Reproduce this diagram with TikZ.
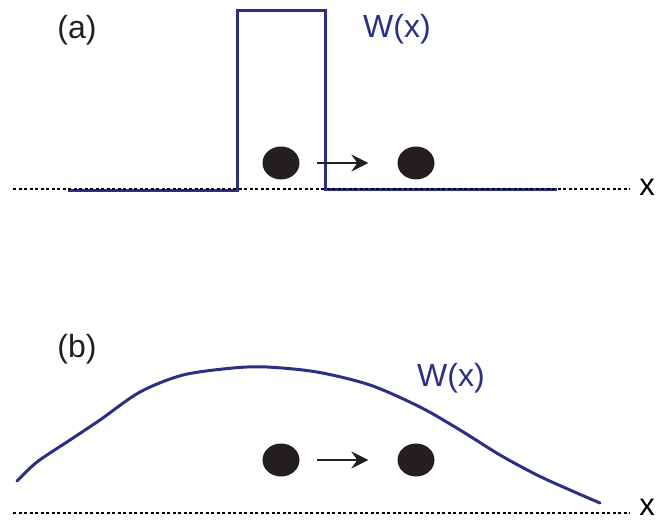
\documentclass[tikz,border=0pt]{standalone}
\usepackage{fontspec}
\setmainfont{Liberation Sans}
\usetikzlibrary{arrows.meta,shapes.geometric}
\definecolor{WellNavy}{HTML}{2B3082}
\definecolor{BallDark}{HTML}{231F20}
\tikzset{
  ball/.style={ellipse,fill=BallDark,minimum width=37pt,minimum height=33pt,inner sep=0pt},
  axisline/.style={dash pattern=on 3pt off 2.5pt,line width=1.4pt,black},
  wall/.style={line width=3pt,WellNavy},
  axislabel/.style={inner sep=0pt,font=\fontsize{31}{33}\selectfont},
}

\begin{document}
\begin{tikzpicture}[>={Stealth[length=17pt,width=17pt,inset=6pt]},x=1pt,y=-1pt,font=\fontsize{32}{34}\selectfont]
  \useasboundingbox (0,0) rectangle (667,522);
  % square barrier
  \draw[wall] (68,190)--(237,190)--(237,10)--(325,10)--(325,189)--(557,189);
  \node[WellNavy] (wa) at (397,29) {W(x)};
  % smooth barrier
  \draw[wall,line cap=round] plot[smooth,tension=0.5] coordinates
    {(17,481) (37,462) (70,440) (100,420) (140,392) (183,375) (233,368) (267,367)
     (317,372) (370,385) (420,407) (460,430) (500,455) (537,475) (570,490) (600,503)};
  \node[WellNavy] (wb) at (451,378) {W(x)};
  \foreach \yy/\ax/\ly/\xy/\p in {163/189/30/187/a,460/513/349/507/b}{
    \node[text=BallDark] (lab\p) at (77,\ly) {(\p)};
    \node[ball] (l\p) at (281,\yy) {};
    \node[ball] (r\p) at (416,\yy) {};
    \draw[->,line width=1.8pt,BallDark,shorten <=17pt,shorten >=29pt] (l\p)--(r\p);
    \coordinate (ax\p) at (13,\ax);
    \node[axislabel] (x\p) at (647,\xy) {x};
    \draw[axisline] (ax\p)--([xshift=-10pt]ax\p -| x\p.west);
  }
\end{tikzpicture}
\end{document}
